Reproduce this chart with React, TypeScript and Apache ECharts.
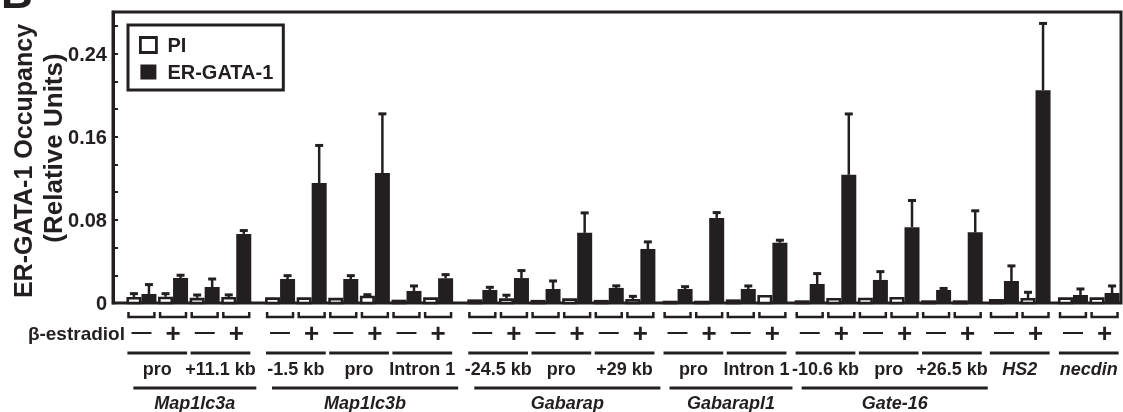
import React, { useEffect, useRef } from 'react';
import * as echarts from 'echarts';

// ---------- data ----------
const genes = ['Map1lc3a', 'Map1lc3b', 'Gabarap', 'Gabarapl1', 'Gate-16', 'HS2', 'necdin'];
const regions = ['pro', '+11.1 kb', '-1.5 kb', 'pro', 'Intron 1', '-24.5 kb', 'pro', '+29 kb', 'pro', 'Intron 1', '-10.6 kb', 'pro', '+26.5 kb', 'HS2', 'necdin'];
const regionGene = [0, 0, 1, 1, 1, 2, 2, 2, 3, 3, 4, 4, 4, 5, 6];
const estradiol = ['\u2014', '+'];
const seriesNames = ['PI', 'ER-GATA-1'];

const piMean = [0.0058, 0.0060, 0.0050, 0.0058, 0.0055, 0.0055, 0.0050, 0.0070, 0.0032, 0.0055, 0.0035, 0.0045, 0.0030, 0.0045, 0.0030, 0.0039, 0.0022, 0.0022, 0.0035, 0.0077, 0.0026, 0.0048, 0.0051, 0.0058, 0.0026, 0.0026, 0.0038, 0.0048, 0.0055, 0.0055];
const piErr = [0.0032, 0.0030, 0.0027, 0.0020, 0, 0, 0, 0.0010, 0, 0, 0, 0.0030, 0, 0, 0, 0.0025, 0, 0, 0, 0, 0, 0, 0, 0, 0, 0, 0, 0.0055, 0, 0];
const erMean = [0.0087, 0.0241, 0.0154, 0.0665, 0.0231, 0.1154, 0.0231, 0.1250, 0.0116, 0.0238, 0.0125, 0.0240, 0.0135, 0.0675, 0.0145, 0.0520, 0.0135, 0.0819, 0.0135, 0.0580, 0.0183, 0.1234, 0.0222, 0.0730, 0.0125, 0.0680, 0.0212, 0.2047, 0.0077, 0.0096];
const erErr = [0.0090, 0.0026, 0.0077, 0.0032, 0.0032, 0.0362, 0.0032, 0.0570, 0.0048, 0.0035, 0.0026, 0.0072, 0.0077, 0.0192, 0.0020, 0.0068, 0.0022, 0.0051, 0.0029, 0.0024, 0.0100, 0.0585, 0.0080, 0.0256, 0.0015, 0.0207, 0.0145, 0.0643, 0.0058, 0.0068];
const yTickLabels = [0, 0.08, 0.16, 0.24];

// ---------- layout / style ----------
const INK = '#231f20';
const FONT = '"Liberation Sans", Arial, Helvetica, sans-serif';
const GENE_GAP = [0, 0.386, 0.4, 0.177, 0.18, 0.146, 0.184]; // extra spacing before each gene (pair units)
const BAR_W = 0.475;
const PAIR_HALF = 0.41;
const LINE_HALF = 0.445;
const GENE_SHIFT_PX = 6;

// condition positions
const condRegion: number[] = [];
regions.forEach((_, r) => { condRegion.push(r, r); });
const condX: number[] = [];
{
  let acc = 0;
  let lastGene = -1;
  condRegion.forEach((r, i) => {
    const g = regionGene[r];
    if (g !== lastGene) { acc += GENE_GAP[g]; lastGene = g; }
    condX.push(i + acc);
  });
}
const X_MIN = -0.9;
const X_MAX = condX[condX.length - 1] + 0.52;

function barRenderer(offset: number, filled: boolean) {
  return (params: any, api: any) => {
    const x = api.value(0) + offset;
    const v = api.value(1);
    const e = api.value(2);
    const base = api.coord([x, 0]);
    const top = api.coord([x, v]);
    const w = api.size([BAR_W, 0])[0];
    const lw = filled ? 0 : 2.6;
    const children: any[] = [
      {
        type: 'rect',
        shape: { x: top[0] - w / 2 + lw / 2, y: top[1] + lw / 2, width: w - lw, height: Math.max(base[1] - top[1] - lw / 2, 0.5) },
        style: filled ? { fill: INK } : { fill: '#ffffff', stroke: INK, lineWidth: lw },
      },
    ];
    if (e > 0) {
      const et = api.coord([x, v + e]);
      children.push({ type: 'line', shape: { x1: top[0], y1: top[1], x2: top[0], y2: et[1] }, style: { stroke: INK, lineWidth: 2.5 } });
      children.push({ type: 'line', shape: { x1: top[0] - 4, y1: et[1], x2: top[0] + 4, y2: et[1] }, style: { stroke: INK, lineWidth: 3 } });
    }
    return { type: 'group', children };
  };
}

const textStyle = (text: string, size: number, extra: any = {}) => ({
  text,
  fill: INK,
  fontFamily: FONT,
  fontWeight: 'bold',
  fontSize: size,
  align: 'center',
  verticalAlign: 'middle',
  ...extra,
});

export default function App() {
  const ref = useRef<HTMLDivElement>(null);

  useEffect(() => {
    if (!ref.current) return;
    const chart = echarts.init(ref.current, undefined, { renderer: 'svg' });

    const regionData = regions.map((_, r) => [condX[2 * r], condX[2 * r + 1], 0]);
    const geneData = genes.map((_, g) => {
      const idx = condRegion.map((r, i) => (regionGene[r] === g ? i : -1)).filter((i) => i >= 0);
      return [condX[idx[0]], condX[idx[idx.length - 1]], 0];
    });

    const option: any = {
      animation: false,
      grid: { left: 113, right: 2, top: 12, bottom: 109, show: true, borderColor: INK, borderWidth: 3, backgroundColor: 'transparent' },
      xAxis: { type: 'value', min: X_MIN, max: X_MAX, show: false },
      yAxis: {
        type: 'value',
        min: 0,
        max: 0.28,
        interval: 0.08 / 3,
        splitLine: { show: false },
        axisLine: { show: true, onZero: false, lineStyle: { color: INK, width: 3 } },
        axisTick: { show: true, inside: true, length: 5, lineStyle: { color: INK, width: 2 } },
        axisLabel: {
          margin: 6,
          color: INK,
          fontFamily: FONT,
          fontWeight: 'bold',
          fontSize: 20,
          formatter: (v: number) => {
            const hit = yTickLabels.find((t) => Math.abs(t - v) < 1e-4);
            if (hit === undefined) return '';
            return hit === 0 ? '0' : hit.toFixed(2);
          },
        },
      },
      legend: {
        show: true,
        orient: 'vertical',
        left: 128,
        top: 25,
        selectedMode: false,
        borderColor: INK,
        borderWidth: 3,
        padding: [10, 10, 8, 11],
        itemWidth: 16,
        itemHeight: 15,
        itemGap: 7,
        textStyle: { color: INK, fontFamily: FONT, fontWeight: 'bold', fontSize: 20, padding: [0, 0, 0, 6] },
        data: [
          { name: seriesNames[0], icon: 'rect', itemStyle: { color: '#ffffff', borderColor: INK, borderWidth: 2.8 } },
          { name: seriesNames[1], icon: 'rect', itemStyle: { color: INK, borderWidth: 0 } },
        ],
      },
      graphic: [
        { type: 'text', x: 23, y: 161, rotation: Math.PI / 2, style: textStyle('ER-GATA-1 Occupancy', 25) },
        { type: 'text', x: 53, y: 148, rotation: Math.PI / 2, style: textStyle('(Relative Units)', 26) },
        { type: 'text', x: 125, y: 333, style: textStyle('\u03b2-estradiol', 19, { align: 'right' }) },
        { type: 'text', x: 1, y: -8, style: textStyle('B', 44, { align: 'left' }) },
      ],
      series: [
        {
          name: seriesNames[0],
          type: 'custom',
          clip: false,
          silent: true,
          itemStyle: { color: '#ffffff', borderColor: INK },
          renderItem: barRenderer(-BAR_W / 2, false),
          encode: { x: 0, y: 1 },
          data: condX.map((x, i) => [x, piMean[i], piErr[i]]),
          z: 3,
        },
        {
          name: seriesNames[1],
          type: 'custom',
          clip: false,
          silent: true,
          itemStyle: { color: INK },
          renderItem: barRenderer(BAR_W / 2, true),
          encode: { x: 0, y: 1 },
          data: condX.map((x, i) => [x, erMean[i], erErr[i]]),
          z: 3,
        },
        {
          name: 'conditions',
          type: 'custom',
          clip: false,
          silent: true,
          encode: { x: 0, y: 1 },
          data: condX.map((x) => [x, 0]),
          renderItem: (params: any, api: any) => {
            const i = params.dataIndex;
            const p = api.coord([api.value(0), 0]);
            const hw = api.size([PAIR_HALF, 0])[0];
            const y0 = p[1];
            const sign = estradiol[i % 2];
            const isPlus = i % 2 === 1;
            return {
              type: 'group',
              children: [
                {
                  type: 'polyline',
                  shape: { points: [[p[0] - hw, y0 + 9], [p[0] - hw, y0 + 14], [p[0] + hw, y0 + 14], [p[0] + hw, y0 + 9]] },
                  style: { stroke: INK, lineWidth: 2.5, fill: null },
                },
                { type: 'text', x: p[0], y: y0 + (isPlus ? 30 : 28), style: textStyle(sign, isPlus ? 26 : 20) },
              ],
            };
          },
        },
        {
          name: 'regions',
          type: 'custom',
          clip: false,
          silent: true,
          encode: { x: [0, 1], y: 2 },
          data: regionData,
          renderItem: (params: any, api: any) => {
            const r = params.dataIndex;
            const a = api.coord([api.value(0) - LINE_HALF, 0]);
            const b = api.coord([api.value(1) + LINE_HALF, 0]);
            const y0 = a[1];
            const italic = regions[r] === genes[regionGene[r]];
            return {
              type: 'group',
              children: [
                { type: 'line', shape: { x1: a[0], y1: y0 + 50, x2: b[0], y2: y0 + 50 }, style: { stroke: INK, lineWidth: 3 } },
                { type: 'text', x: (a[0] + b[0]) / 2, y: y0 + 66, style: textStyle(regions[r], 18, italic ? { fontStyle: 'italic' } : {}) },
              ],
            };
          },
        },
        {
          name: 'genes',
          type: 'custom',
          clip: false,
          silent: true,
          encode: { x: [0, 1], y: 2 },
          data: geneData,
          renderItem: (params: any, api: any) => {
            const g = params.dataIndex;
            const ownRegions = regions.filter((_, r) => regionGene[r] === g);
            if (ownRegions.length === 1 && ownRegions[0] === genes[g]) return { type: 'group', children: [] };
            const a = api.coord([api.value(0) - LINE_HALF, 0]);
            const b = api.coord([api.value(1) + LINE_HALF, 0]);
            const y0 = a[1];
            const x1 = a[0] + GENE_SHIFT_PX;
            const x2 = b[0] + GENE_SHIFT_PX;
            return {
              type: 'group',
              children: [
                { type: 'line', shape: { x1, y1: y0 + 85, x2, y2: y0 + 85 }, style: { stroke: INK, lineWidth: 3 } },
                { type: 'text', x: (x1 + x2) / 2, y: y0 + 100, style: textStyle(genes[g], 18, { fontStyle: 'italic' }) },
              ],
            };
          },
        },
      ],
    };

    chart.setOption(option);
    return () => { chart.dispose(); };
  }, []);

  return <div ref={ref} style={{ position: 'fixed', left: 0, top: 0, width: 1123, height: 412 }} />;
}
